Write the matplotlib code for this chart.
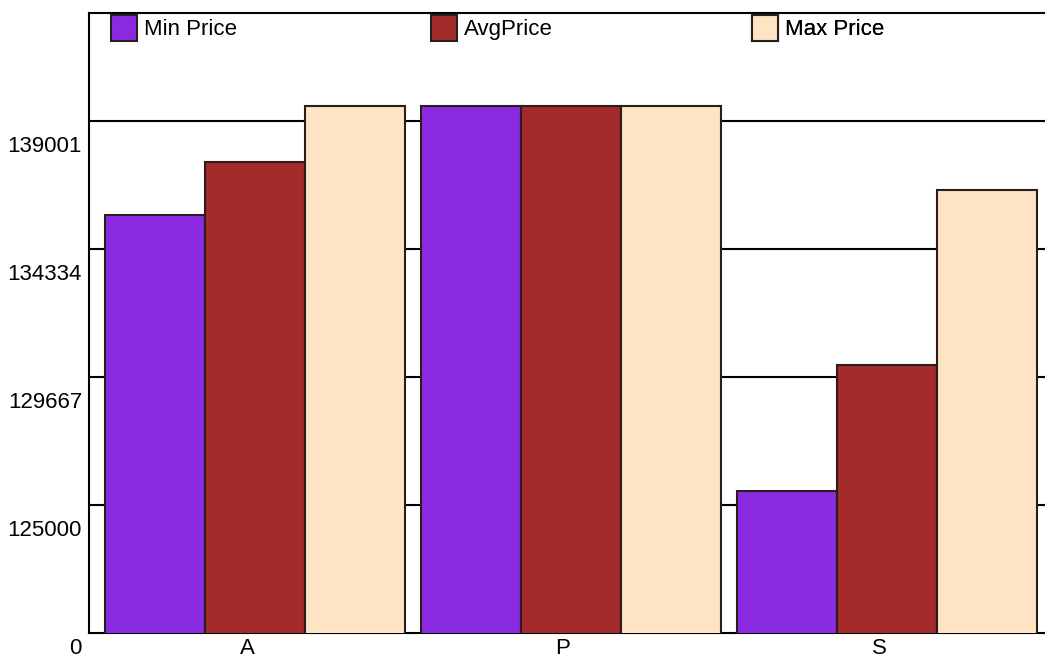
import matplotlib
matplotlib.use("Agg")
import matplotlib.pyplot as plt
from matplotlib.patches import Patch
from matplotlib.transforms import ScaledTranslation
import numpy as np

categories = ["A", "P", "S"]
min_price = [135585, 139548, 125510]
avg_price = [137517, 139548, 130093]
max_price = [139548, 139548, 136496]
series_names = ["Min Price", "AvgPrice", "Max Price"]
series_colors = ["blueviolet", "brown", "bisque"]
grid_values = [125000, 129667, 134334, 139001]
axis_base = 120333   # bottom of the axis, shown as "0"
axis_top = 142930

plt.rcParams["font.family"] = ["Liberation Sans", "DejaVu Sans"]
fs = 16

fig = plt.figure(figsize=(10.45, 6.67), dpi=100)
ax = fig.add_axes([89 / 1045, 34 / 667, 1 - 89 / 1045, 620 / 667])

x = np.arange(len(categories))
w = 0.3165
edge = "#2b1d1d"
for k, vals in enumerate([min_price, avg_price, max_price]):
    ax.bar(x + (k - 1) * w, vals, width=w, color=series_colors[k],
           edgecolor=edge, linewidth=1.5, zorder=3)

ax.set_xlim(-0.525, 2.5)
ax.set_ylim(axis_base, axis_top)

ax.set_yticks(grid_values)
ax.set_yticklabels([])
ax.set_xticks([])
ax.tick_params(length=0)
ax.grid(axis="y", color="black", linewidth=1.5, zorder=0)
ax.set_axisbelow(True)

for s in ["left", "bottom", "top"]:
    ax.spines[s].set_linewidth(1.5)
    ax.spines[s].set_color("black")
ax.spines["right"].set_visible(False)

# y labels sit a bit below their grid lines
px = fig.dpi_scale_trans
ylab_tr = ax.get_yaxis_transform() + ScaledTranslation(-7 / 100, -26 / 100, px)
for v in grid_values:
    ax.text(0, v, str(v), transform=ylab_tr, ha="right", va="center", fontsize=fs)
zero_tr = ax.get_yaxis_transform() + ScaledTranslation(-7 / 100, -15 / 100, px)
ax.text(0, axis_base, "0", transform=zero_tr, ha="right", va="center", fontsize=fs)

xlab_tr = ax.get_xaxis_transform() + ScaledTranslation(-8 / 100, -15 / 100, px)
for i, c in enumerate(categories):
    ax.text(i, 0, c, transform=xlab_tr, ha="center", va="center", fontsize=fs)

# legend entries spread along the top
leg_x = [22 / 956, 342 / 956, 663 / 956]
for k, name in enumerate(series_names):
    h = Patch(facecolor=series_colors[k], edgecolor=edge, linewidth=1.5)
    leg = ax.legend(handles=[h], labels=[name], loc="upper left",
                    bbox_to_anchor=(leg_x[k], 0.997), frameon=False,
                    borderpad=0, borderaxespad=0, handlelength=1.17,
                    handleheight=1.45, handletextpad=0.32, fontsize=fs)
    ax.add_artist(leg)

fig.savefig("out.png", dpi=100)
